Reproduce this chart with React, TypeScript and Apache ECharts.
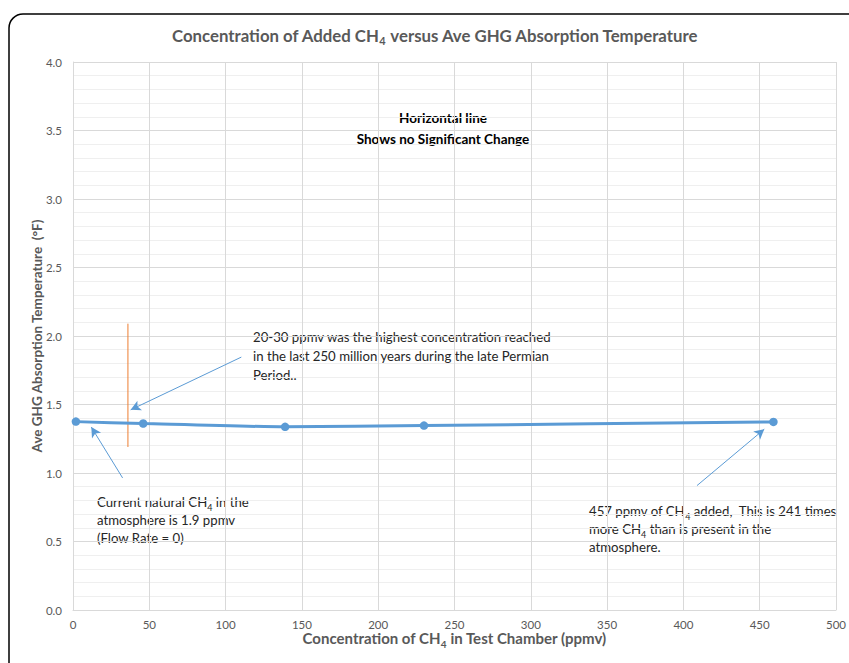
import React, { useEffect, useRef } from "react";
import * as echarts from "echarts";

// Measured series (x: ppmv of CH4 in chamber, y: ave absorption temperature °F)
const concentration = [1.9, 46, 139, 230, 459];
const temperature = [1.375, 1.361, 1.337, 1.346, 1.373];

// Orange vertical marker line (x, y pairs)
const markerX = [36, 36];
const markerY = [1.19, 2.09];

// Annotation arrows in data units: [fromX, fromY, toX, toY]
const arrowFrom: number[][] = [
  [110.3, 1.846],
  [32.5, 0.964],
  [408.9, 0.908],
];
const arrowTo: number[][] = [
  [37.8, 1.461],
  [12.0, 1.335],
  [453, 1.32],
];

const xTicks = { min: 0, max: 500, interval: 50 };
const yTicks = { min: 0, max: 4, interval: 0.5 };

const FONT = "Lato";
const GRAY = "#595959";
const TXT = "#262626";

const subRich = (size: number, color: string, weight: string) => ({
  n: { fontSize: size, color, fontWeight: weight as any, fontFamily: FONT, lineHeight: size + 6 },
  s: {
    fontSize: Math.round(size * 0.65),
    color,
    fontWeight: weight as any,
    fontFamily: FONT,
    lineHeight: Math.round(size * 0.65),
    verticalAlign: "bottom",
  },
});

function noteLine(x: number, y: number, text: string, size = 13.2, color = TXT, weight = "normal", align = "left") {
  return {
    type: "text",
    x,
    y,
    silent: true,
    style: {
      text,
      rich: subRich(size, color, weight),
      align,
      verticalAlign: "middle",
      fontSize: size,
      fontFamily: FONT,
      fill: color,
    },
  };
}

export default function App() {
  const ref = useRef<HTMLDivElement>(null);

  useEffect(() => {
    if (!ref.current) return;
    const chart = echarts.init(ref.current, undefined, { renderer: "svg" });

    const points = concentration.map((x, i) => [x, temperature[i]]);
    const marker = markerX.map((x, i) => [x, markerY[i]]);
    const arrows = arrowFrom.map((f, i) => [
      { coord: f },
      { coord: arrowTo[i] },
    ]);

    chart.setOption({
      animation: false,
      backgroundColor: "#ffffff",
      grid: { left: 73, top: 62, right: 12, bottom: 53, containLabel: false },
      xAxis: {
        type: "value",
        min: xTicks.min,
        max: xTicks.max,
        interval: xTicks.interval,
        name: "{n|Concentration of CH}{s|4}{n| in Test Chamber (ppmv)}",
        nameLocation: "middle",
        nameGap: 28,
        nameMoveOverlap: false,
        nameTextStyle: {
          fontFamily: FONT,
          fontWeight: "bold",
          fontSize: 15,
          color: GRAY,
          verticalAlign: "middle",
          rich: subRich(15, GRAY, "bold"),
        },
        axisLine: { show: true, lineStyle: { color: "#d9d9d9" } },
        axisTick: { show: false },
        axisLabel: { color: GRAY, fontFamily: FONT, fontSize: 11.5, margin: 8 },
        splitLine: { show: true, lineStyle: { color: "#d9d9d9" } },
      },
      yAxis: {
        type: "value",
        min: yTicks.min,
        max: yTicks.max,
        interval: yTicks.interval,
        name: "Ave GHG Absorption Temperature  (°F)",
        nameLocation: "middle",
        nameGap: 36,
        nameMoveOverlap: false,
        nameTextStyle: {
          fontFamily: FONT,
          fontWeight: "bold",
          fontSize: 13.5,
          color: GRAY,
          verticalAlign: "middle",
        },
        axisLine: { show: true, lineStyle: { color: "#d9d9d9" } },
        axisTick: { show: false },
        axisLabel: {
          color: GRAY,
          fontFamily: FONT,
          fontSize: 11.5,
          margin: 11,
          formatter: (v: number) => v.toFixed(1),
        },
        splitLine: { show: true, lineStyle: { color: "#d9d9d9" } },
        minorTick: { show: false, splitNumber: 5 },
        minorSplitLine: { show: true, lineStyle: { color: "#efefef" } },
      },
      series: [
        {
          type: "line",
          data: points,
          smooth: 0.2,
          symbol: "circle",
          symbolSize: 8.5,
          itemStyle: { color: "#5B9BD5" },
          lineStyle: { color: "#5B9BD5", width: 3 },
          z: 3,
        },
        {
          type: "line",
          data: marker,
          symbol: "none",
          lineStyle: { color: "#ED7D31", width: 1 },
          z: 2,
          markLine: {
            silent: true,
            symbol: ["none", "arrow"],
            symbolSize: [8, 10],
            label: { show: false },
            lineStyle: { color: "#5B9BD5", width: 1, type: "solid" },
            data: arrows,
          },
        },
      ],
      graphic: [
        {
          type: "rect",
          silent: true,
          shape: { x: 9, y: 14, width: 900, height: 700, r: 14 },
          style: { fill: "none", stroke: "#000", lineWidth: 1.5 },
        },
        noteLine(435, 35, "{n|Concentration of Added CH}{s|4}{n| versus Ave GHG Absorption Temperature}", 16.8, GRAY, "bold", "center"),
        noteLine(443, 118, "{n|Horizontal line}", 13.5, "#000", "bold", "center"),
        noteLine(443, 139, "{n|Shows no Significant Change}", 13.5, "#000", "bold", "center"),
        noteLine(253, 337, "{n|20-30 ppmv was the highest concentration reached}"),
        noteLine(253, 356, "{n|in the last 250 million years during the late Permian}"),
        noteLine(253, 375, "{n|Period..}"),
        noteLine(97, 502, "{n|Current natural CH}{s|4}{n| in the}"),
        noteLine(97, 520, "{n|atmosphere is 1.9 ppmv}"),
        noteLine(97, 538, "{n|(Flow Rate = 0)}"),
        noteLine(589, 511, "{n|457 ppmv of CH}{s|4}{n| added,  This is 241 times}"),
        noteLine(589, 529, "{n|more CH}{s|4}{n| than is present in the}"),
        noteLine(589, 547, "{n|atmosphere.}"),
      ],
    });

    return () => chart.dispose();
  }, []);

  return (
    <div
      ref={ref}
      style={{ position: "fixed", left: 0, top: 0, width: 849, height: 663 }}
    />
  );
}
